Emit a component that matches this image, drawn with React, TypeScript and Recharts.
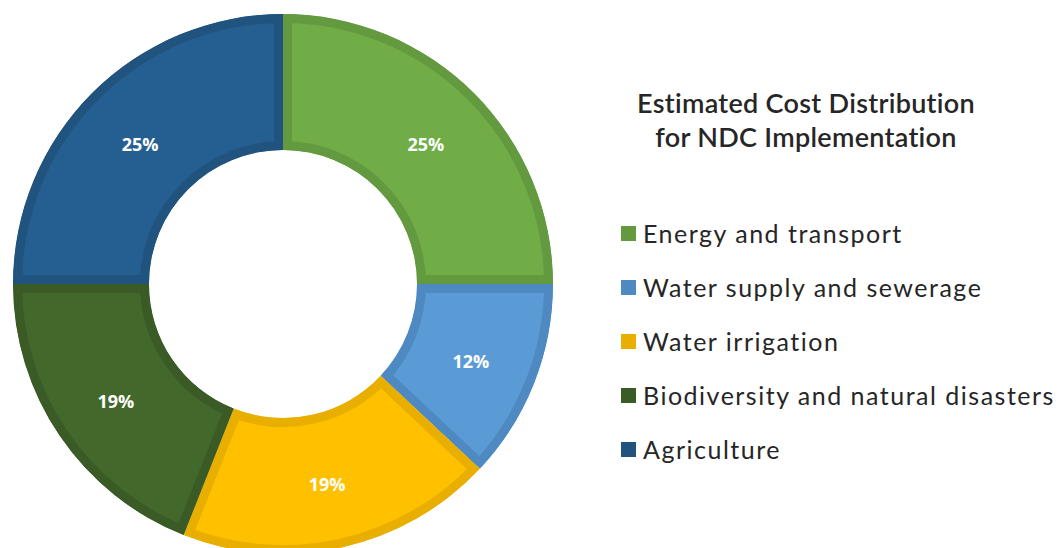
import React from 'react';
import { PieChart, Pie, Cell, Sector } from 'recharts';

const categories = [
  'Energy and transport',
  'Water supply and sewerage',
  'Water irrigation',
  'Biodiversity and natural disasters',
  'Agriculture',
];
const shares = [25, 12, 19, 19, 25];
const fills = ['#70AD47', '#5B9BD5', '#FFC000', '#43682B', '#255E91'];
const borders = ['#63993F', '#4E8AC1', '#E8AE00', '#3A5B25', '#21537F'];
const titleLines = ['Estimated Cost Distribution', 'for NDC Implementation'];

const data = categories.map((name, i) => ({ name, value: shares[i], idx: i }));

const RAD = Math.PI / 180;

const InsetSector = (props: any) => {
  const idx = props.payload?.idx ?? props.index ?? 0;
  const id = `clip-sector-${idx}`;
  return (
    <g>
      <defs>
        <clipPath id={id}>
          <Sector {...props} stroke="none" />
        </clipPath>
      </defs>
      <Sector
        {...props}
        fill={fills[idx]}
        stroke={borders[idx]}
        strokeWidth={18}
        clipPath={`url(#${id})`}
      />
    </g>
  );
};

const renderLabel = (p: any) => {
  const r = (p.innerRadius + p.outerRadius) / 2;
  const x = p.cx + r * Math.cos(-p.midAngle * RAD);
  const y = p.cy + r * Math.sin(-p.midAngle * RAD) + 3;
  return (
    <text
      x={x}
      y={y}
      fill="#FFFFFF"
      textAnchor="middle"
      dominantBaseline="central"
      fontFamily="'Open Sans', sans-serif"
      fontWeight={700}
      fontSize={18}
    >
      {`${p.value}%`}
    </text>
  );
};

export default function App() {
  return (
    <div style={{ position: 'fixed', left: 0, top: 0, width: 1059, height: 548, background: '#fff' }}>
      <div style={{ position: 'absolute', left: 0, top: 0 }}>
        <PieChart width={1059} height={548} margin={{ top: 0, right: 0, bottom: 0, left: 0 }}>
          <Pie
            data={data}
            dataKey="value"
            nameKey="name"
            cx={283}
            cy={284}
            innerRadius={134}
            outerRadius={270}
            startAngle={90}
            endAngle={-270}
            stroke="none"
            shape={InsetSector}
            label={renderLabel}
            labelLine={false}
            isAnimationActive={false}
          >
            {data.map((d, i) => (
              <Cell key={d.name} fill={fills[i]} />
            ))}
          </Pie>
        </PieChart>
      </div>
      <div
        style={{
          position: 'absolute',
          left: 606,
          top: 86,
          width: 400,
          textAlign: 'center',
          fontFamily: 'Lato, sans-serif',
          fontWeight: 600,
          fontSize: 27,
          letterSpacing: 0.3,
          lineHeight: '34px',
          color: '#262626',
        }}
      >
        {titleLines.map((t) => (
          <div key={t}>{t}</div>
        ))}
      </div>
      <div
        style={{
          position: 'absolute',
          left: 621,
          top: 206,
          fontFamily: 'Lato, sans-serif',
          color: '#262626',
        }}
      >
        {categories.map((c, i) => (
          <div
            key={c}
            style={{ display: 'flex', alignItems: 'center', height: 54, whiteSpace: 'nowrap' }}
          >
            <span
              style={{
                display: 'inline-block',
                width: 15,
                height: 15,
                background: borders[i],
                marginRight: 7,
              }}
            />
            <span style={{ fontSize: 25, letterSpacing: 1.5 }}>{c}</span>
          </div>
        ))}
      </div>
    </div>
  );
}
